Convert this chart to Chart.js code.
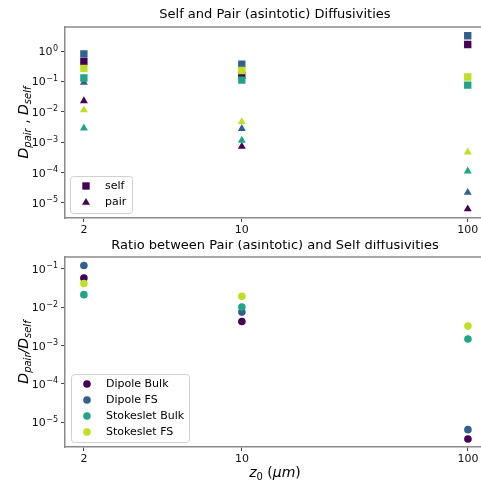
<!DOCTYPE html>
<html>
<head>
<meta charset="utf-8">
<script src="https://cdn.jsdelivr.net/npm/chart.js@4/dist/chart.umd.min.js"></script>
<style>
    body { margin: 0; background: #fff; }
    #wrap { position: relative; width: 481px; height: 483px; overflow: hidden; }
    #top { position: absolute; left: 0; top: 0; }
    #bottom { position: absolute; left: 0; top: 240px; }
</style>
</head>
<body>
<div id="wrap">
    <canvas id="top" width="490" height="240"></canvas>
    <canvas id="bottom" width="490" height="243"></canvas>
</div>
<script>
// z0 in micrometres
var zValues = [2, 10, 100];
var models = ["Dipole Bulk", "Dipole FS", "Stokeslet Bulk", "Stokeslet FS"];
var colors = ["#440154", "#34608d", "#22a585", "#bddf26"];

// self diffusivities (squares)
var selfDipoleBulk = [0.45, 0.16, 1.65];
var selfDipoleFS = [0.8, 0.37, 3.2];
var selfStokesletBulk = [0.13, 0.11, 0.076];
var selfStokesletFS = [0.27, 0.23, 0.14];

// pair (asintotic) diffusivities (triangles)
var pairDipoleBulk = [0.023, 0.00072, 6.3e-6];
var pairDipoleFS = [0.093, 0.0028, 2.2e-5];
var pairStokesletBulk = [0.0029, 0.00115, 0.000112];
var pairStokesletFS = [0.0115, 0.0047, 0.00047];

// ratio pair / self
var ratioDipoleBulk = [0.057, 0.0042, 3.7e-6];
var ratioDipoleFS = [0.12, 0.0074, 6.5e-6];
var ratioStokesletBulk = [0.021, 0.010, 0.00148];
var ratioStokesletFS = [0.041, 0.019, 0.0032];

var xTicks = [2, 10, 100];
var yTicksTop = [1e-5, 1e-4, 1e-3, 1e-2, 1e-1, 1];
var yTicksBottom = [1e-5, 1e-4, 1e-3, 1e-2, 1e-1];

var selfSeries = [selfDipoleBulk, selfDipoleFS, selfStokesletBulk, selfStokesletFS];
var pairSeries = [pairDipoleBulk, pairDipoleFS, pairStokesletBulk, pairStokesletFS];
var ratioSeries = [ratioDipoleBulk, ratioDipoleFS, ratioStokesletBulk, ratioStokesletFS];

var FONT = "'DejaVu Sans', sans-serif";
var SPINE = "#8a8a8a";

function pts(vals) {
    return zValues.map(function(z, i) { return {x: z, y: vals[i]}; });
}

// mixed-font text (italic / subscripts), centred on x,y
function rich(ctx, parts, x, y, rotate) {
    ctx.save();
    ctx.translate(x, y);
    if (rotate) ctx.rotate(-Math.PI / 2);
    ctx.textBaseline = "alphabetic";
    ctx.fillStyle = "#000";
    var w = 0;
    parts.forEach(function(p) {
        ctx.font = (p.i ? "italic " : "") + p.s + "px " + FONT;
        p.w = ctx.measureText(p.t).width;
        w += p.w;
    });
    var cx = -w / 2;
    parts.forEach(function(p) {
        ctx.font = (p.i ? "italic " : "") + p.s + "px " + FONT;
        ctx.fillText(p.t, cx, 5 + (p.dy || 0));
        cx += p.w;
    });
    ctx.restore();
}

// y tick labels as 10 with a raised exponent
function powLabels(chart) {
    var ctx = chart.ctx, s = chart.scales.y;
    ctx.save();
    ctx.fillStyle = "#111";
    ctx.textBaseline = "alphabetic";
    s.ticks.forEach(function(t) {
        var e = String(Math.round(Math.log10(t.value))).replace("-", "\u2212");
        var y = s.getPixelForValue(t.value);
        var right = s.right - 7;
        ctx.font = "8px " + FONT;
        var we = ctx.measureText(e).width;
        ctx.fillText(e, right - we, y - 0.5);
        ctx.font = "11px " + FONT;
        var wb = ctx.measureText("10").width;
        ctx.fillText("10", right - we - wb - 0.5, y + 4);
    });
    ctx.restore();
}

function marker(ctx, style, x, y, r, color) {
    ctx.fillStyle = color;
    ctx.beginPath();
    if (style === "rect") {
        var s = r * Math.SQRT1_2;
        ctx.rect(x - s, y - s, 2 * s, 2 * s);
    } else if (style === "triangle") {
        ctx.moveTo(x, y - r);
        ctx.lineTo(x + r * 0.866, y + r * 0.5);
        ctx.lineTo(x - r * 0.866, y + r * 0.5);
        ctx.closePath();
    } else {
        ctx.arc(x, y, r, 0, Math.PI * 2);
    }
    ctx.fill();
}

function legendBox(ctx, x, y, w, h) {
    ctx.save();
    ctx.fillStyle = "rgba(255,255,255,0.8)";
    ctx.strokeStyle = "#d0d0d0";
    ctx.lineWidth = 1;
    ctx.beginPath();
    ctx.roundRect(x + 0.5, y + 0.5, w, h, 3);
    ctx.fill();
    ctx.stroke();
    ctx.restore();
}

function decor(title, ylabel, xlabel, legend) {
    return {
        id: "decor",
        afterDraw: function(chart) {
            var ctx = chart.ctx, a = chart.chartArea;
            // top spine
            ctx.save();
            ctx.strokeStyle = SPINE;
            ctx.lineWidth = 1.5;
            ctx.beginPath();
            ctx.moveTo(a.left, a.top);
            ctx.lineTo(a.right, a.top);
            ctx.stroke();
            ctx.restore();
            powLabels(chart);
            var cx = (a.left + a.right) / 2;
            ctx.save();
            ctx.font = "13px " + FONT;
            ctx.fillStyle = "#000";
            ctx.textAlign = "center";
            ctx.textBaseline = "middle";
            ctx.fillText(title.t, cx, title.y);
            ctx.restore();
            rich(ctx, ylabel, 23, (a.top + a.bottom) / 2, true);
            if (xlabel) rich(ctx, xlabel, cx, 232, false);
            legendBox(ctx, legend.x, legend.y, legend.w, legend.h);
            ctx.save();
            ctx.font = "11px " + FONT;
            ctx.textBaseline = "middle";
            legend.items.forEach(function(it, k) {
                var yy = legend.y + legend.first + k * legend.step;
                marker(ctx, it.style, legend.x + 16, yy, it.r, it.color);
                ctx.fillStyle = "#000";
                ctx.fillText(it.label, legend.x + 35, yy);
            });
            ctx.restore();
        }
    };
}

function scales(yMin, yMax, yTicks, xHeight) {
    return {
        x: {
            type: "logarithmic",
            min: 1.65,
            max: 119,
            afterBuildTicks: function(s) { s.ticks = xTicks.map(function(v) { return {value: v}; }); },
            afterFit: function(s) { s.height = xHeight; s.paddingLeft = 0; s.paddingRight = 0; },
            grid: {drawOnChartArea: false, tickLength: 4, tickColor: "#444", tickWidth: 1},
            border: {color: SPINE, width: 1.5},
            ticks: {
                color: "#111", padding: 2, maxRotation: 0, autoSkip: false,
                font: {family: FONT, size: 11},
                callback: function(v) { return String(v); }
            }
        },
        y: {
            type: "logarithmic",
            min: yMin,
            max: yMax,
            afterBuildTicks: function(s) { s.ticks = yTicks.map(function(v) { return {value: v}; }); },
            afterFit: function(s) { s.width = 65; s.paddingTop = 0; s.paddingBottom = 0; },
            grid: {drawOnChartArea: false, tickLength: 4, tickColor: "#444", tickWidth: 1},
            border: {color: SPINE, width: 1.5},
            ticks: {
                padding: 3, autoSkip: false,
                font: {family: FONT, size: 11},
                callback: function() { return ""; }
            }
        }
    };
}

// top: self and pair, drawn model by model so later ones sit on top
var topSets = [];
models.forEach(function(m, i) {
    topSets.push({label: m + " self", data: pts(selfSeries[i]), pointStyle: "rect", pointRadius: 5.2,
        backgroundColor: colors[i], borderWidth: 0});
    topSets.push({label: m + " pair", data: pts(pairSeries[i]), pointStyle: "triangle", pointRadius: 4.6,
        backgroundColor: colors[i], borderWidth: 0});
});
topSets.forEach(function(d, k) { d.order = topSets.length - k; });

new Chart(document.getElementById("top"), {
    type: "scatter",
    data: {datasets: topSets},
    options: {
        responsive: false,
        devicePixelRatio: 1,
        animation: false,
        events: [],
        layout: {padding: {top: 27, left: 0, right: 5, bottom: 0}},
        plugins: {legend: {display: false}, tooltip: {enabled: false}},
        scales: scales(3.2e-6, 6.2, yTicksTop, 22)
    },
    plugins: [decor(
        {t: "Self and Pair (asintotic) Diffusivities", y: 15},
        [{t: "D", i: true, s: 14}, {t: "pair", i: true, s: 10, dy: 3}, {t: " , ", s: 14},
         {t: "D", i: true, s: 14}, {t: "self", i: true, s: 10, dy: 3}],
        null,
        {x: 70, y: 176, w: 62, h: 37, first: 10, step: 16.5, items: [
            {label: "self", style: "rect", r: 5.2, color: colors[0]},
            {label: "pair", style: "triangle", r: 4.6, color: colors[0]}
        ]}
    )]
});

var botSets = models.map(function(m, i) {
    return {label: m, data: pts(ratioSeries[i]), pointStyle: "circle", pointRadius: 3.8,
        backgroundColor: colors[i], borderWidth: 0};
});
botSets.forEach(function(d, k) { d.order = botSets.length - k; });

new Chart(document.getElementById("bottom"), {
    type: "scatter",
    data: {datasets: botSets},
    options: {
        responsive: false,
        devicePixelRatio: 1,
        animation: false,
        events: [],
        layout: {padding: {top: 17, left: 0, right: 5, bottom: 0}},
        plugins: {legend: {display: false}, tooltip: {enabled: false}},
        scales: scales(2.3e-6, 0.2, yTicksBottom, 36)
    },
    plugins: [decor(
        {t: "Ratio between Pair (asintotic) and Self diffusivities", y: 6},
        [{t: "D", i: true, s: 14}, {t: "pair", i: true, s: 10, dy: 3}, {t: "/", i: true, s: 14},
         {t: "D", i: true, s: 14}, {t: "self", i: true, s: 10, dy: 3}],
        [{t: "z", i: true, s: 14}, {t: "0", s: 10, dy: 3}, {t: " (", s: 14}, {t: "\u03bcm", i: true, s: 14}, {t: ")", s: 14}],
        {x: 71, y: 134, w: 118, h: 68, first: 10, step: 16, items: models.map(function(m, i) {
            return {label: m, style: "circle", r: 3.8, color: colors[i]};
        })}
    )]
});
</script>
</body>
</html>
